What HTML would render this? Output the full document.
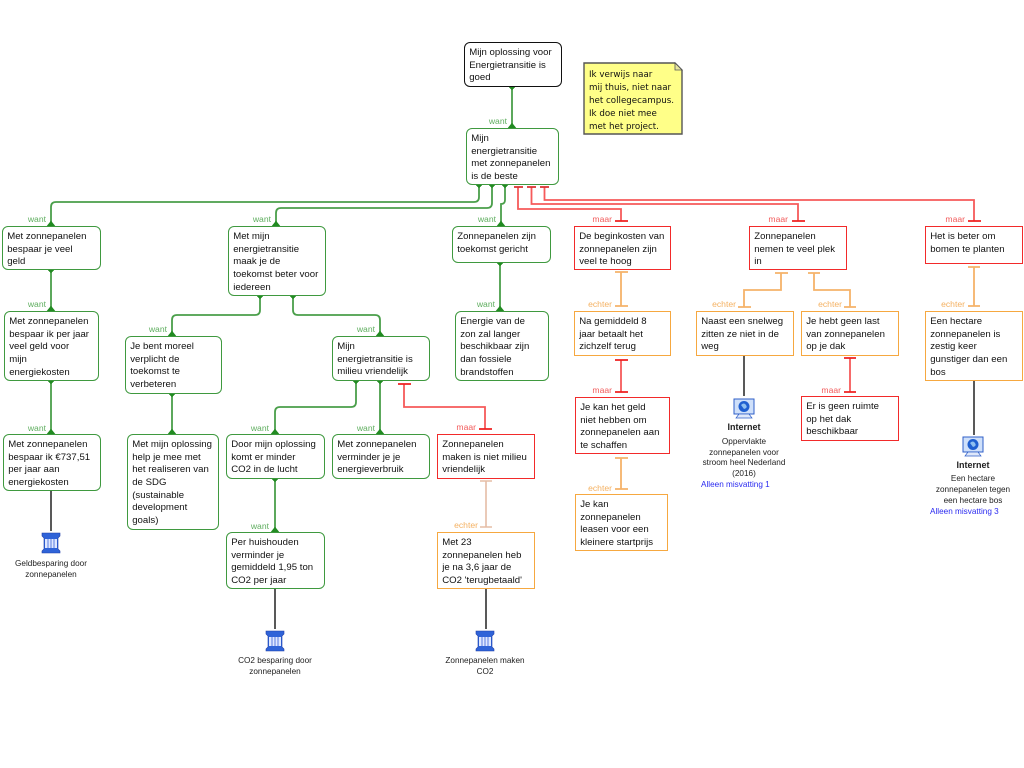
<!DOCTYPE html>
<html><head><meta charset="utf-8"><style>
html,body{margin:0;padding:0;background:#fff;width:1024px;height:768px;overflow:hidden}
.b{position:absolute;box-sizing:border-box;background:#fff;border:1.7px solid;font:9.6px/12.6px "Liberation Sans",sans-serif;letter-spacing:.02px;color:#111;padding:4.2px 0 0 4.2px;white-space:nowrap}
.g{border-color:#3f993f;border-radius:6px}.r{border-color:#f22a2a}.o{border-color:#f6a840}
svg{position:absolute;left:0;top:0}
.l{font:8.6px "Liberation Sans",sans-serif;text-anchor:end}
.w{fill:#5fae5f}.m{fill:#f25b5b}.e{fill:#f4b060}
.s{font:8.2px "Liberation Sans",sans-serif;text-anchor:middle;fill:#222}
</style></head><body>
<svg width="1024" height="768" viewBox="0 0 1024 768">
<g fill="none" stroke="#4a9f4a" stroke-width="1.8">
<path d="M512 86V128"/><path d="M479 184V197q0 5-5 5H56q-5 0-5 5V226"/><path d="M492 184V203q0 5-5 5H281q-5 0-5 5V226"/><path d="M505 184V200q0 4-4 4v22"/>
<path d="M51 269V311M51 380V434M172 393V434M275 478V532M380 380V434M500 262V311"/>
<path d="M260 295V310q0 5-5 5H177q-5 0-5 5V336"/><path d="M293 295V310q0 5 5 5H375q5 0 5 5V336"/>
<path d="M356 380V402q0 5-5 5H280q-5 0-5 5V434"/>
</g>
<g fill="#228b22" stroke="#228b22" stroke-width=".5">
<path d="M508 86h8l-4 4zM508 128h8l-4-5zM475 184h8l-4 4zM488 184h8l-4 4zM501 184h8l-4 4zM497 226h8l-4-5zM47 226h8l-4-5zM272 226h8l-4-5zM47 269h8l-4 4zM47 311h8l-4-5zM47 380h8l-4 4zM47 434h8l-4-5zM256 295h8l-4 4zM289 295h8l-4 4zM168 336h8l-4-5zM376 336h8l-4-5zM168 393h8l-4 4zM168 434h8l-4-5zM352 380h8l-4 4zM376 380h8l-4 4zM271 434h8l-4-5zM376 434h8l-4-5zM271 478h8l-4 4zM271 532h8l-4-5zM496 262h8l-4 4zM496 311h8l-4-5z"/>
</g>
<g fill="none" stroke="#f65a5a" stroke-width="1.8">
<path d="M518 187V209H621V221"/><path d="M531.5 187V204H798V221"/><path d="M544.5 187V200H974V221"/>
<path d="M404 384V407H485V429"/><path d="M621 360V392M850 358V392"/>
<path d="M514 187h9M527 187h9M540 187h9" stroke="#d93030"/>
<path d="M615 221h13M792 221h13M968 221h13M398 384h13M479 429h13M615 360h13M615 392h13M844 358h12M844 392h12" stroke="#ee2020"/>
</g>
<g fill="none" stroke="#f5b26a" stroke-width="1.8">
<path d="M621 272V306M615 272h13M615 306h13"/><path d="M621 458V489M615 458h13M615 489h13"/>
<path d="M781 273V290H744V307M775 273h13M738 307h13"/><path d="M814 273V290H850V307M808 273h12M844 307h12"/>
<path d="M974 267V306M968 267h12M968 306h12"/>
</g>
<g fill="none" stroke="#e5bda6" stroke-width="1.6">
<path d="M486 481V527M480 481h12M480 527h12"/>
</g>
<g stroke="#222" stroke-width="1.5"><path d="M51 490V531M275 588V629M486 588V629M744 355V396M974 380V435"/></g>
<g class="l">
<text class="l w" x="507" y="124">want</text><text class="l w" x="46" y="222">want</text><text class="l w" x="46" y="307">want</text><text class="l w" x="46" y="431">want</text>
<text class="l w" x="271" y="222">want</text><text class="l w" x="167" y="332">want</text><text class="l w" x="375" y="332">want</text><text class="l w" x="269" y="431">want</text>
<text class="l w" x="375" y="431">want</text><text class="l w" x="269" y="529">want</text><text class="l w" x="496" y="222">want</text><text class="l w" x="495" y="307">want</text>
<text class="l m" x="612" y="222">maar</text><text class="l m" x="612" y="393">maar</text><text class="l m" x="788" y="222">maar</text><text class="l m" x="841" y="393">maar</text><text class="l m" x="965" y="222">maar</text><text class="l m" x="476" y="430">maar</text>
<text class="l e" x="612" y="307">echter</text><text class="l e" x="612" y="491">echter</text><text class="l e" x="736" y="307">echter</text><text class="l e" x="842" y="307">echter</text><text class="l e" x="965" y="307">echter</text><text class="l e" x="478" y="528">echter</text>
</g>
<g transform="translate(51,533)"><path d="M-9 0h18v3l-2 2v11l2 2v2h-18v-2l2-2V5l-2-2z" fill="#2f63d8" stroke="#1f3fa8" stroke-width=".6"/><path d="M-6 6h12v9h-12z" fill="#dfe8ff"/><path d="M-3 6v9M0 6v9M3 6v9" stroke="#5a7ce0" stroke-width="1"/></g>
<g transform="translate(275,631)"><path d="M-9 0h18v3l-2 2v11l2 2v2h-18v-2l2-2V5l-2-2z" fill="#2f63d8" stroke="#1f3fa8" stroke-width=".6"/><path d="M-6 6h12v9h-12z" fill="#dfe8ff"/><path d="M-3 6v9M0 6v9M3 6v9" stroke="#5a7ce0" stroke-width="1"/></g>
<g transform="translate(485,631)"><path d="M-9 0h18v3l-2 2v11l2 2v2h-18v-2l2-2V5l-2-2z" fill="#2f63d8" stroke="#1f3fa8" stroke-width=".6"/><path d="M-6 6h12v9h-12z" fill="#dfe8ff"/><path d="M-3 6v9M0 6v9M3 6v9" stroke="#5a7ce0" stroke-width="1"/></g>
<g transform="translate(744,399)"><rect x="-10" y="0" width="20" height="15" fill="#cfe0fa" stroke="#2f5fc8"/><circle cx="0" cy="7.5" r="5.5" fill="#1f5fd0"/><path d="M-3 6q3-3 5 0t-2 4z" fill="#8fc0f0"/><path d="M-5 15h10l3 4h-16z" fill="#dfe8fa" stroke="#2f5fc8" stroke-width=".7"/></g>
<g transform="translate(973,437)"><rect x="-10" y="0" width="20" height="15" fill="#cfe0fa" stroke="#2f5fc8"/><circle cx="0" cy="7.5" r="5.5" fill="#1f5fd0"/><path d="M-3 6q3-3 5 0t-2 4z" fill="#8fc0f0"/><path d="M-5 15h10l3 4h-16z" fill="#dfe8fa" stroke="#2f5fc8" stroke-width=".7"/></g>
<text class="s" x="51" y="566">Geldbesparing door</text><text class="s" x="51" y="577">zonnepanelen</text>
<text class="s" x="275" y="663">CO2 besparing door</text><text class="s" x="275" y="674">zonnepanelen</text>
<text class="s" x="485" y="663">Zonnepanelen maken</text><text class="s" x="485" y="674">CO2</text>
<text class="s" x="744" y="430" style="font-weight:bold;font-size:9px">Internet</text>
<text class="s" x="744" y="444">Oppervlakte</text><text class="s" x="744" y="455">zonnepanelen voor</text><text class="s" x="744" y="465">stroom heel Nederland</text><text class="s" x="744" y="476">(2016)</text>
<text class="s" x="701" y="487" style="text-anchor:start;fill:#2a2af0">Alleen misvatting 1</text>
<text class="s" x="973" y="468" style="font-weight:bold;font-size:9px">Internet</text>
<text class="s" x="973" y="481">Een hectare</text><text class="s" x="973" y="492">zonnepanelen tegen</text><text class="s" x="973" y="503">een hectare bos</text>
<text class="s" x="930" y="514" style="text-anchor:start;fill:#2a2af0">Alleen misvatting 3</text>
<path d="M584 63H675L682 70V134H584Z" fill="#ffff88" stroke="#555" stroke-width="1.4"/><path d="M675 63V70H682Z" fill="#e8e8a0" stroke="#555" stroke-width=".8"/>
<g fill="#111" style="font:8.7px 'DejaVu Sans',sans-serif">
<text x="589" y="77">Ik verwijs naar</text><text x="589" y="90">mij thuis, niet naar</text><text x="589" y="103">het collegecampus.</text><text x="589" y="116">Ik doe niet mee</text><text x="589" y="129">met het project.</text>
</g>
</svg>
<div class="b" style="left:464px;top:42px;width:98px;height:45px;border-color:#111;border-radius:6px">Mijn oplossing voor<br>Energietransitie is<br>goed</div>
<div class="b g" style="left:466px;top:128px;width:93px;height:57px">Mijn<br>energietransitie<br>met zonnepanelen<br>is de beste</div>
<div class="b g" style="left:2px;top:226px;width:99px;height:44px">Met zonnepanelen<br>bespaar je veel<br>geld</div>
<div class="b g" style="left:4px;top:311px;width:95px;height:70px">Met zonnepanelen<br>bespaar ik per jaar<br>veel geld voor<br>mijn<br>energiekosten</div>
<div class="b g" style="left:3px;top:434px;width:98px;height:57px">Met zonnepanelen<br>bespaar ik €737,51<br>per jaar aan<br>energiekosten</div>
<div class="b g" style="left:228px;top:226px;width:98px;height:70px">Met mijn<br>energietransitie<br>maak je de<br>toekomst beter voor<br>iedereen</div>
<div class="b g" style="left:125px;top:336px;width:97px;height:58px">Je bent moreel<br>verplicht de<br>toekomst te<br>verbeteren</div>
<div class="b g" style="left:127px;top:434px;width:92px;height:96px">Met mijn oplossing<br>help je mee met<br>het realiseren van<br>de SDG<br>(sustainable<br>development<br>goals)</div>
<div class="b g" style="left:332px;top:336px;width:98px;height:45px">Mijn<br>energietransitie is<br>milieu vriendelijk</div>
<div class="b g" style="left:226px;top:434px;width:99px;height:45px">Door mijn oplossing<br>komt er minder<br>CO2 in de lucht</div>
<div class="b g" style="left:226px;top:532px;width:99px;height:57px">Per huishouden<br>verminder je<br>gemiddeld 1,95 ton<br>CO2 per jaar</div>
<div class="b g" style="left:332px;top:434px;width:98px;height:45px">Met zonnepanelen<br>verminder je je<br>energieverbruik</div>
<div class="b r" style="left:437px;top:434px;width:98px;height:45px">Zonnepanelen<br>maken is niet milieu<br>vriendelijk</div>
<div class="b o" style="left:437px;top:532px;width:98px;height:57px">Met 23<br>zonnepanelen heb<br>je na 3,6 jaar de<br>CO2 'terugbetaald'</div>
<div class="b g" style="left:452px;top:226px;width:99px;height:37px">Zonnepanelen zijn<br>toekomst gericht</div>
<div class="b g" style="left:455px;top:311px;width:94px;height:70px">Energie van de<br>zon zal langer<br>beschikbaar zijn<br>dan fossiele<br>brandstoffen</div>
<div class="b r" style="left:574px;top:226px;width:97px;height:44px">De beginkosten van<br>zonnepanelen zijn<br>veel te hoog</div>
<div class="b o" style="left:574px;top:311px;width:97px;height:45px">Na gemiddeld 8<br>jaar betaalt het<br>zichzelf terug</div>
<div class="b r" style="left:575px;top:397px;width:95px;height:57px">Je kan het geld<br>niet hebben om<br>zonnepanelen aan<br>te schaffen</div>
<div class="b o" style="left:575px;top:494px;width:93px;height:57px">Je kan<br>zonnepanelen<br>leasen voor een<br>kleinere startprijs</div>
<div class="b r" style="left:749px;top:226px;width:98px;height:44px">Zonnepanelen<br>nemen te veel plek<br>in</div>
<div class="b o" style="left:696px;top:311px;width:98px;height:45px">Naast een snelweg<br>zitten ze niet in de<br>weg</div>
<div class="b o" style="left:801px;top:311px;width:98px;height:45px">Je hebt geen last<br>van zonnepanelen<br>op je dak</div>
<div class="b r" style="left:801px;top:396px;width:98px;height:45px">Er is geen ruimte<br>op het dak<br>beschikbaar</div>
<div class="b r" style="left:925px;top:226px;width:98px;height:38px">Het is beter om<br>bomen te planten</div>
<div class="b o" style="left:925px;top:311px;width:98px;height:70px">Een hectare<br>zonnepanelen is<br>zestig keer<br>gunstiger dan een<br>bos</div>
</body></html>
